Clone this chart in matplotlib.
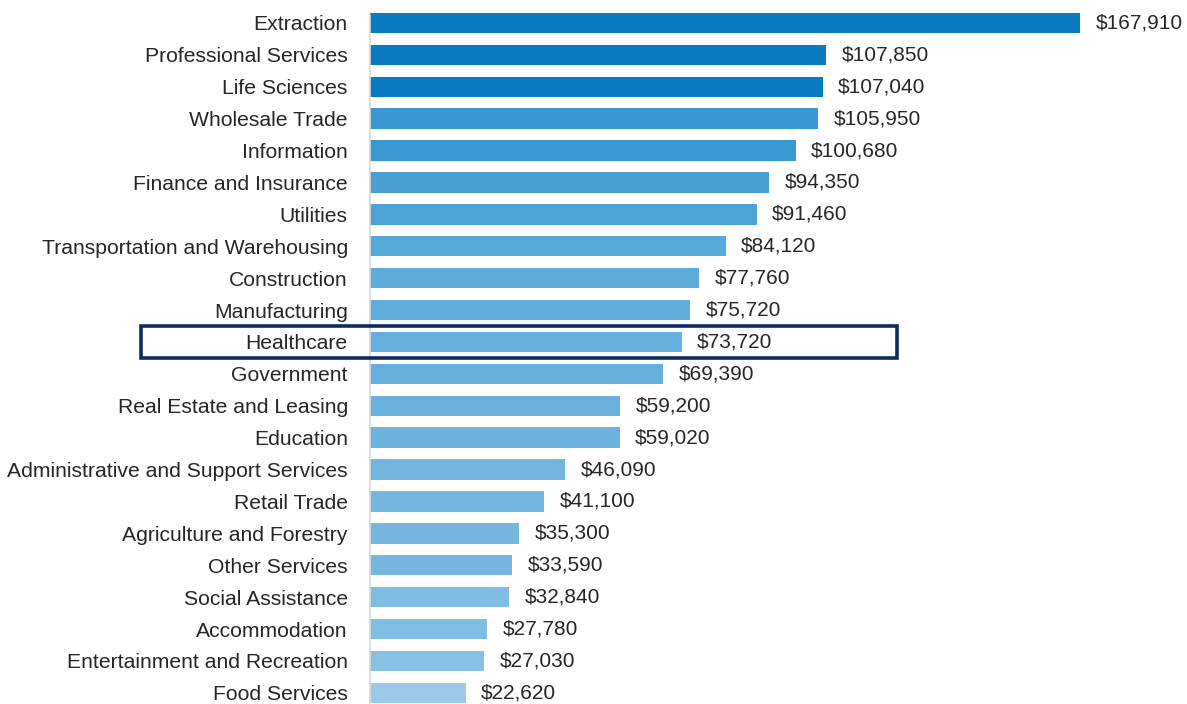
import matplotlib

matplotlib.use("Agg")
import matplotlib.pyplot as plt
from matplotlib.patches import Rectangle
from matplotlib.transforms import blended_transform_factory

industries = [
    "Extraction", "Professional Services", "Life Sciences", "Wholesale Trade",
    "Information", "Finance and Insurance", "Utilities",
    "Transportation and Warehousing", "Construction", "Manufacturing",
    "Healthcare", "Government", "Real Estate and Leasing", "Education",
    "Administrative and Support Services", "Retail Trade",
    "Agriculture and Forestry", "Other Services", "Social Assistance",
    "Accommodation", "Entertainment and Recreation", "Food Services",
]
wages = [
    167910, 107850, 107040, 105950, 100680, 94350, 91460, 84120, 77760,
    75720, 73720, 69390, 59200, 59020, 46090, 41100, 35300, 33590, 32840,
    27780, 27030, 22620,
]
highlight = "Healthcare"

bar_colors = [
    "#0a7bc2", "#0a7bc2", "#0a7bc2", "#3a96cf", "#3b98d0", "#4aa0d5",
    "#4da2d6", "#58a9da", "#5dacdb", "#61aedc", "#66b0dd", "#66b0dd",
    "#6bb3de", "#6cb3de", "#73b6df", "#76b7e0", "#76b6df", "#76b6df",
    "#7ebce2", "#80bee3", "#88c1e4", "#9cc9e8",
]

fig = plt.figure(figsize=(11.87, 7.04), dpi=100)
ax = fig.add_axes([370 / 1187, 0.0, 817 / 1187, 1.0])

positions = list(range(len(industries)))
ax.barh(positions, wages, height=0.64, color=bar_colors)

x_max = 167910 * 817 / 710
ax.set_xlim(0, x_max)
ax.set_ylim(21.35, -0.72)

for pos, value in zip(positions, wages):
    ax.text(value + x_max * 0.019, pos, f"${value:,}", va="center", ha="left",
            fontsize=15, color="#262626", family="Liberation Sans")

ax.set_yticks(positions)
ax.set_yticklabels(industries, fontsize=15.2, color="#262626", family="Liberation Sans")
ax.tick_params(axis="y", length=0, pad=16)
ax.set_xticks([])
for side in ["top", "right", "bottom"]:
    ax.spines[side].set_visible(False)
ax.spines["left"].set_color("#d9d9d9")
ax.spines["left"].set_linewidth(1.2)
ax.spines["left"].set_bounds(21.35, -0.25)

row = industries.index(highlight)
trans = blended_transform_factory(ax.transAxes, ax.transData)
box_left = (141 - 370) / 817
box_right = (897 - 370) / 817
ax.add_patch(Rectangle((box_left, row - 0.5), box_right - box_left, 1.0,
                       transform=trans, fill=False, edgecolor="#0d2b5e",
                       linewidth=2.6, clip_on=False, zorder=5))

fig.savefig("out.png", dpi=100)
